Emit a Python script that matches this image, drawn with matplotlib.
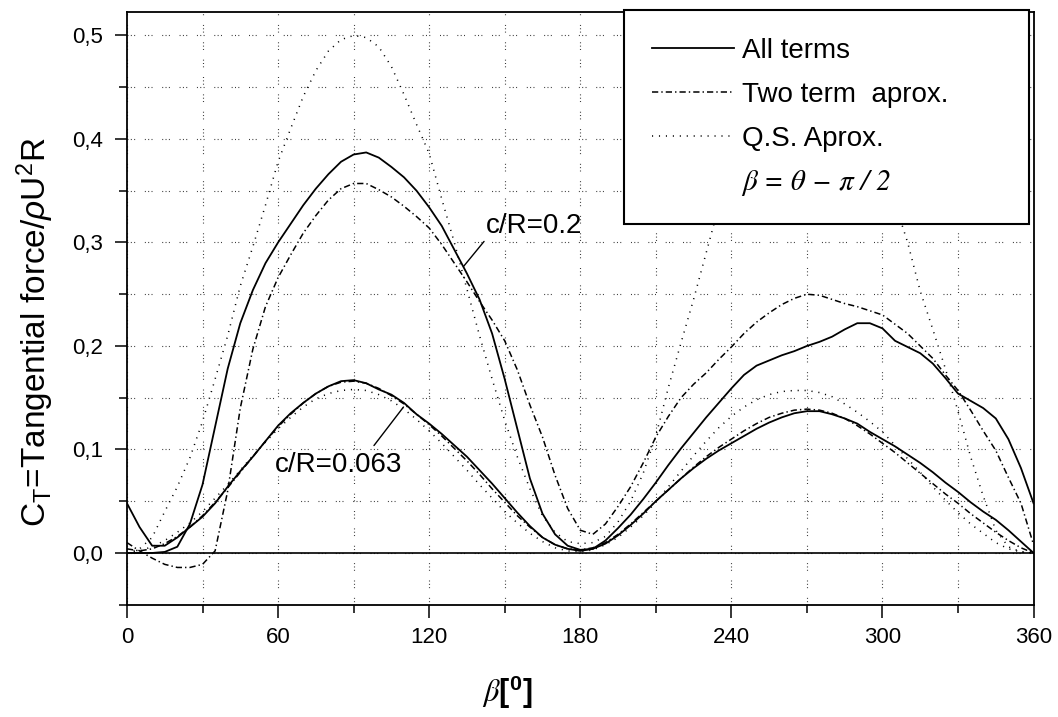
"""
Tangential force coefficient C_T versus blade position beta,
for two chord ratios and three models (all terms, two-term, quasi-steady).
"""

import numpy as np
import matplotlib
matplotlib.use("Agg")
import matplotlib.pyplot as plt
from matplotlib.lines import Line2D
from matplotlib.ticker import MultipleLocator, FuncFormatter


# =========================
# Data (every 5 degrees)
# =========================

BETA = np.arange(0, 361, 5)

# c/R = 0.2
ALL_02 = [0.000, 0.000, 0.000, 0.001, 0.006, 0.028, 0.066, 0.122, 0.178, 0.222,
          0.254, 0.280, 0.300, 0.318, 0.336, 0.352, 0.366, 0.378, 0.385, 0.387,
          0.382, 0.373, 0.363, 0.350, 0.334, 0.316, 0.293, 0.270, 0.245, 0.212,
          0.168, 0.120, 0.072, 0.038, 0.018, 0.007, 0.003, 0.004, 0.012, 0.024,
          0.037, 0.052, 0.068, 0.085, 0.101, 0.116, 0.131, 0.145, 0.159, 0.172,
          0.181, 0.186, 0.191, 0.195, 0.200, 0.204, 0.209, 0.216, 0.222, 0.222,
          0.217, 0.205, 0.199, 0.193, 0.183, 0.169, 0.154, 0.147, 0.140, 0.130,
          0.110, 0.082, 0.048]
TWO_02 = [0.010, 0.002, -0.005, -0.011, -0.014, -0.014, -0.011, 0.002, 0.060, 0.140,
          0.197, 0.238, 0.266, 0.288, 0.309, 0.326, 0.341, 0.352, 0.357, 0.357,
          0.351, 0.344, 0.335, 0.325, 0.314, 0.298, 0.280, 0.262, 0.243, 0.225,
          0.205, 0.177, 0.143, 0.112, 0.075, 0.043, 0.022, 0.018, 0.028, 0.045,
          0.064, 0.087, 0.112, 0.132, 0.150, 0.163, 0.174, 0.187, 0.199, 0.212,
          0.223, 0.232, 0.240, 0.246, 0.250, 0.249, 0.245, 0.241, 0.238, 0.234,
          0.230, 0.221, 0.212, 0.200, 0.188, 0.172, 0.157, 0.138, 0.118, 0.099,
          0.073, 0.048, 0.008]
QS_02 = [0.000, 0.004, 0.015, 0.040, 0.064, 0.092, 0.127, 0.168, 0.210, 0.258,
         0.296, 0.336, 0.378, 0.410, 0.441, 0.466, 0.485, 0.496, 0.500, 0.498,
         0.489, 0.470, 0.443, 0.414, 0.386, 0.342, 0.300, 0.255, 0.210, 0.168,
         0.128, 0.093, 0.062, 0.036, 0.020, 0.011, 0.009, 0.010, 0.016, 0.030,
         0.050, 0.077, 0.113, 0.160, 0.203, 0.245, 0.290, 0.335, 0.375, 0.410,
         0.440, 0.466, 0.485, 0.496, 0.500, 0.496, 0.485, 0.466, 0.440, 0.410,
         0.375, 0.338, 0.300, 0.253, 0.216, 0.178, 0.137, 0.093, 0.055, 0.022,
         0.006, 0.001, 0.000]

# c/R = 0.063
ALL_063 = [0.048, 0.025, 0.007, 0.007, 0.015, 0.025, 0.035, 0.048, 0.064, 0.079,
           0.093, 0.108, 0.123, 0.135, 0.145, 0.154, 0.161, 0.166, 0.167, 0.164,
           0.158, 0.153, 0.145, 0.134, 0.125, 0.115, 0.104, 0.093, 0.080, 0.067,
           0.053, 0.039, 0.026, 0.015, 0.008, 0.004, 0.002, 0.004, 0.009, 0.017,
           0.027, 0.038, 0.050, 0.061, 0.072, 0.082, 0.091, 0.099, 0.106, 0.113,
           0.120, 0.126, 0.131, 0.135, 0.137, 0.137, 0.134, 0.130, 0.125, 0.117,
           0.110, 0.103, 0.095, 0.087, 0.078, 0.068, 0.059, 0.049, 0.040, 0.032,
           0.022, 0.011, 0.000]
TWO_063 = [0.004, 0.002, 0.004, 0.009, 0.016, 0.025, 0.036, 0.049, 0.063, 0.078,
           0.093, 0.108, 0.122, 0.134, 0.145, 0.154, 0.161, 0.165, 0.166, 0.164,
           0.159, 0.152, 0.144, 0.134, 0.124, 0.113, 0.101, 0.089, 0.076, 0.062,
           0.049, 0.036, 0.025, 0.015, 0.008, 0.004, 0.003, 0.005, 0.010, 0.018,
           0.028, 0.039, 0.050, 0.061, 0.072, 0.083, 0.093, 0.102, 0.110, 0.118,
           0.125, 0.131, 0.135, 0.138, 0.139, 0.138, 0.135, 0.130, 0.123, 0.115,
           0.106, 0.097, 0.087, 0.077, 0.067, 0.057, 0.048, 0.038, 0.029, 0.020,
           0.012, 0.005, 0.000]
QS_063 = [0.000, 0.002, 0.006, 0.012, 0.020, 0.029, 0.040, 0.053, 0.066, 0.080,
          0.094, 0.107, 0.120, 0.131, 0.141, 0.149, 0.154, 0.157, 0.158, 0.157,
          0.153, 0.147, 0.139, 0.129, 0.118, 0.106, 0.093, 0.080, 0.066, 0.053,
          0.040, 0.029, 0.019, 0.011, 0.005, 0.002, 0.001, 0.003, 0.008, 0.015,
          0.025, 0.036, 0.049, 0.064, 0.079, 0.094, 0.108, 0.121, 0.132, 0.141,
          0.148, 0.153, 0.156, 0.157, 0.157, 0.155, 0.151, 0.144, 0.136, 0.127,
          0.117, 0.104, 0.091, 0.078, 0.064, 0.051, 0.039, 0.028, 0.019, 0.010,
          0.004, 0.001, 0.000]

LEGEND_LABELS = ["All terms", "Two term  aprox.", "Q.S. Aprox.",
                 "\u03b2 = \u03b8 \u2212 \u03c0 / 2"]

# line styles (dash patterns in points)
SOLID = dict(color="black", lw=1.3, linestyle="-")
DASHDOT = dict(color="black", lw=1.1, linestyle=(0, (4.5, 2.2, 1.0, 2.2)))
DOTTED = dict(color="black", lw=1.1, linestyle=(0, (0.8, 4.2)))


def main():
    plt.rcParams["font.family"] = ["Liberation Sans", "DejaVu Sans"]
    plt.rcParams["lines.scale_dashes"] = False
    plt.rcParams["mathtext.fontset"] = "custom"
    plt.rcParams["mathtext.rm"] = "Liberation Sans"
    plt.rcParams["mathtext.it"] = "Liberation Sans:italic"

    fig = plt.figure(figsize=(10.58, 7.17), dpi=100)
    ax = fig.add_axes([0.120, 0.1566, 0.8569, 0.8271])

    for vals in (QS_02, QS_063):
        ax.plot(BETA, vals, **DOTTED)
    for vals in (TWO_02, TWO_063):
        ax.plot(BETA, vals, **DASHDOT)
    for vals in (ALL_02, ALL_063):
        ax.plot(BETA, vals, **SOLID)

    ax.axhline(0, color="black", lw=1.2)

    ax.set_xlim(0, 360)
    ax.set_ylim(-0.05, 0.523)

    ax.xaxis.set_major_locator(MultipleLocator(60))
    ax.xaxis.set_minor_locator(MultipleLocator(30))
    ax.yaxis.set_major_locator(MultipleLocator(0.1))
    ax.yaxis.set_minor_locator(MultipleLocator(0.05))
    ax.yaxis.set_major_formatter(
        FuncFormatter(lambda v, p: f"{v:.1f}".replace(".", ",")))

    ax.tick_params(which="major", direction="out", length=9, width=1.1, pad=7)
    ax.tick_params(which="minor", direction="out", length=5.5, width=1.1)
    ax.tick_params(axis="y", which="major", pad=8, labelsize=16)
    ax.tick_params(axis="x", which="major", labelsize=16)
    for s in ax.spines.values():
        s.set_linewidth(1.3)

    grid_ls = (0, (0.7, 1.7, 0.7, 1.7, 0.7, 7.0))
    ax.grid(which="both", color="0.2", lw=0.8, linestyle=grid_ls)
    ax.set_axisbelow(True)

    # curve labels with leader lines
    ax.annotate("c/R=0.2", xy=(133.7, 0.277), xytext=(142.7, 0.3095),
                fontsize=20, ha="left", va="baseline",
                arrowprops=dict(arrowstyle="-", lw=1.0, color="black",
                                relpos=(0.0, 0.0), shrinkA=0, shrinkB=0))
    ax.annotate("c/R=0.063", xy=(109.8, 0.141), xytext=(58.8, 0.0786),
                fontsize=20, ha="left", va="baseline",
                arrowprops=dict(arrowstyle="-", lw=1.0, color="black",
                                relpos=(0.74, 1.0), shrinkA=3, shrinkB=0))

    handles = [Line2D([], [], **SOLID),
               Line2D([], [], **DASHDOT),
               Line2D([], [], **DOTTED),
               Line2D([], [], color="none")]
    # legend box spans 624..1029 px across, top at 10 px
    leg = ax.legend(handles, LEGEND_LABELS, loc="upper left",
                    bbox_to_anchor=(624 / 1058, 1 - 222 / 717,
                                    405 / 1058, 212 / 717),
                    bbox_transform=fig.transFigure, borderaxespad=0,
                    mode="expand", fontsize=20, handlelength=2.95,
                    handletextpad=0.3, labelspacing=0.65, borderpad=1.0,
                    frameon=True, fancybox=False, framealpha=1)
    leg.get_frame().set_edgecolor("black")
    leg.get_frame().set_linewidth(1.5)
    beta_txt = leg.get_texts()[3]
    beta_txt.set_family(["STIXGeneral", "DejaVu Serif"])
    beta_txt.set_style("italic")
    beta_txt.set_fontsize(21)

    fig.text(35 / 1058, 1 - 332 / 717,
             r"C$_\mathregular{T}$=Tangential force/$\rho$U$^\mathregular{2}$R",
             rotation=90, fontsize=24, ha="center", va="center")
    fig.text(507 / 1058, 1 - 692 / 717, r"$\beta$[$^\mathregular{0}$]",
             fontsize=22, fontweight="bold", ha="center", va="center",
             math_fontfamily="stix")

    fig.savefig("out.png", dpi=100)
    plt.close(fig)


if __name__ == "__main__":
    main()
